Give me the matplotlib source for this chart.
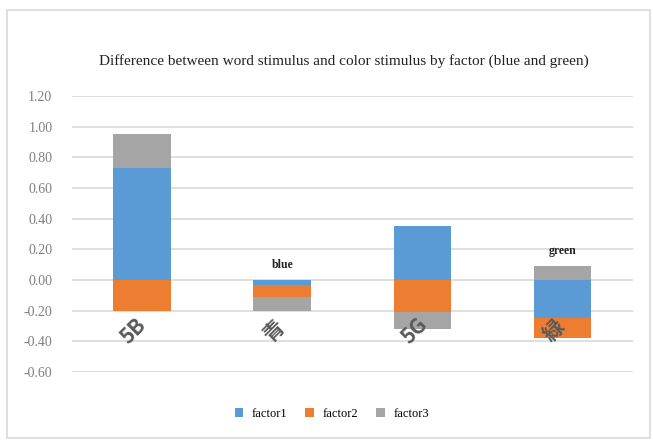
import numpy as np
import matplotlib.pyplot as plt
from matplotlib.patches import Rectangle

# data
categories = ['5B', '青', '5G', '緑']
top_labels = ['', 'blue', '', 'green']
factor1 = [0.73, -0.03, 0.35, -0.25]
factor2 = [-0.20, -0.08, -0.21, -0.13]
factor3 = [0.22, -0.09, -0.11, 0.09]
yticks = [-0.60, -0.40, -0.20, 0.00, 0.20, 0.40, 0.60, 0.80, 1.00, 1.20]

colors = ['#5B9BD5', '#ED7D31', '#A5A5A5']
serif = ['Liberation Serif', 'DejaVu Serif']
cjk = ['Noto Sans CJK JP', 'DejaVu Sans']

fig = plt.figure(figsize=(6.53, 4.44), dpi=100)
ax = fig.add_axes([0.11, 0.162, 0.859, 0.622])

x = np.arange(len(categories))
w = 0.41
pos_base = np.zeros(len(categories))
neg_base = np.zeros(len(categories))
for vals, c, name in zip([factor1, factor2, factor3], colors, ['factor1', 'factor2', 'factor3']):
    vals = np.array(vals)
    base = np.where(vals >= 0, pos_base, neg_base)
    ax.bar(x, vals, w, bottom=base, color=c, label=name, zorder=3)
    pos_base = pos_base + np.where(vals >= 0, vals, 0)
    neg_base = neg_base + np.where(vals < 0, vals, 0)

# category labels drawn inside the plot, rotated
for i, cat in enumerate(categories):
    ax.text(x[i] - 0.06, -0.33, cat, rotation=45, ha='center', va='center',
            fontsize=15, fontweight='bold', color='#595959', family=cjk, zorder=4)

for i, lab in enumerate(top_labels):
    if lab:
        top = pos_base[i] if pos_base[i] > 0 else 0
        ax.text(x[i], top + 0.06, lab, ha='center', va='bottom', fontsize=8.5,
                fontweight='bold', family=serif, color='#222222')

ax.set_xlim(-0.5, 3.5)
ax.set_ylim(-0.6, 1.2)
ax.set_yticks(yticks)
ax.set_yticklabels(['%.2f' % t for t in yticks], family=serif, fontsize=10, color='#7f7f7f')
ax.set_xticks([])
ax.grid(axis='y', color='#d9d9d9', linewidth=1.2, zorder=0)
ax.tick_params(axis='y', length=0, pad=14)
for s in ax.spines.values():
    s.set_visible(False)

fig.text(0.527, 0.862, 'Difference between word stimulus and color stimulus by factor (blue and green)',
         ha='center', va='center', fontsize=11, family=serif, color='#222222')

leg = fig.legend(loc='center', bbox_to_anchor=(0.508, 0.068), ncol=3, frameon=False,
                 prop={'family': serif, 'size': 9}, handlelength=0.7, handleheight=0.7,
                 columnspacing=1.4, handletextpad=0.7)

fig.patches.append(Rectangle((7 / 653, 1 - 438 / 444), 643 / 653, 428 / 444,
                             transform=fig.transFigure, fill=False,
                             edgecolor='#d9d9d9', linewidth=1.2))

fig.savefig('out.png', dpi=100)
